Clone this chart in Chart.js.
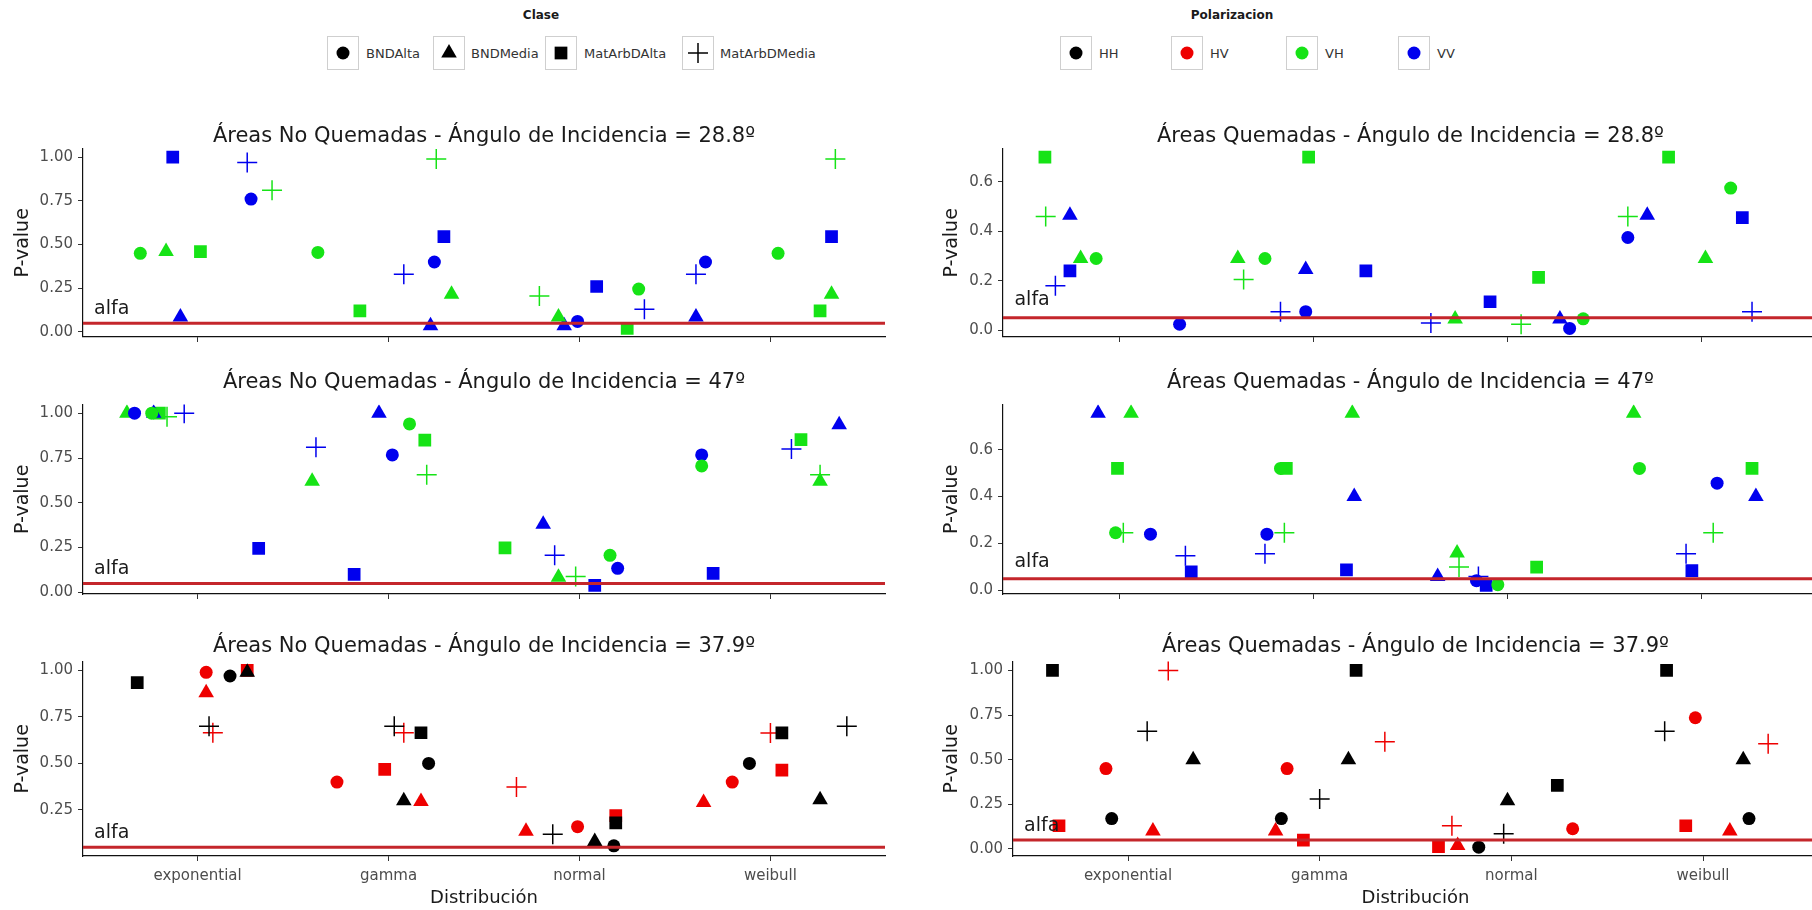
<!DOCTYPE html>
<html>
<head>
<meta charset="utf-8">
<script src="https://cdn.jsdelivr.net/npm/chart.js@4.4.1/dist/chart.umd.min.js"></script>
<style>
  html, body { margin: 0; padding: 0; background: #fff; }
  body { position: relative; width: 1812px; height: 910px; overflow: hidden; font-family: "DejaVu Sans", sans-serif; }
  canvas.panel { position: absolute; }
  .lg-title { position: absolute; font-weight: bold; font-size: 12px; color: #1a1a1a; transform: translateX(-50%); }
  .lg-key { position: absolute; box-sizing: border-box; border: 1px solid #cfcfcf; background: #fff; }
  .lg-label { position: absolute; font-size: 13px; color: #333; transform: translateY(-50%); }
</style>
</head>
<body>
<script>
// categorias y etiquetas
const distribuciones = ["exponential", "gamma", "normal", "weibull"];
const clases = ["BNDAlta", "BNDMedia", "MatArbDAlta", "MatArbDMedia"];
const polarizaciones = ["HH", "HV", "VH", "VV"];
const alfa = 0.05;

// p-values: [posicion x con jitter, p-value, clase, polarizacion]
const noQuem288 = [
  [0.70, 0.45, "BNDAlta", "VH"], [0.835, 0.46, "BNDMedia", "VH"], [0.87, 1.00, "MatArbDAlta", "VV"],
  [0.91, 0.085, "BNDMedia", "VV"], [1.015, 0.46, "MatArbDAlta", "VH"], [1.26, 0.97, "MatArbDMedia", "VV"],
  [1.28, 0.76, "BNDAlta", "VV"], [1.39, 0.81, "MatArbDMedia", "VH"],
  [1.63, 0.455, "BNDAlta", "VH"], [1.85, 0.12, "MatArbDAlta", "VH"], [2.08, 0.33, "MatArbDMedia", "VV"],
  [2.22, 0.035, "BNDMedia", "VV"], [2.24, 0.40, "BNDAlta", "VV"], [2.25, 0.99, "MatArbDMedia", "VH"],
  [2.29, 0.545, "MatArbDAlta", "VV"], [2.33, 0.215, "BNDMedia", "VH"],
  [2.79, 0.205, "MatArbDMedia", "VH"], [2.89, 0.085, "BNDMedia", "VH"], [2.92, 0.035, "BNDMedia", "VV"],
  [2.99, 0.06, "BNDAlta", "VV"], [3.09, 0.26, "MatArbDAlta", "VV"], [3.25, 0.02, "MatArbDAlta", "VH"],
  [3.31, 0.245, "BNDAlta", "VH"], [3.34, 0.13, "MatArbDMedia", "VV"],
  [3.61, 0.33, "MatArbDMedia", "VV"], [3.61, 0.085, "BNDMedia", "VV"], [3.66, 0.40, "BNDAlta", "VV"],
  [4.04, 0.45, "BNDAlta", "VH"], [4.26, 0.12, "MatArbDAlta", "VH"], [4.34, 0.99, "MatArbDMedia", "VH"],
  [4.32, 0.545, "MatArbDAlta", "VV"], [4.32, 0.215, "BNDMedia", "VH"]
];

const quem288 = [
  [0.616, 0.70, "MatArbDAlta", "VH"], [0.62, 0.46, "MatArbDMedia", "VH"], [0.745, 0.465, "BNDMedia", "VV"],
  [0.80, 0.29, "BNDMedia", "VH"], [0.88, 0.29, "BNDAlta", "VH"], [0.745, 0.24, "MatArbDAlta", "VV"],
  [0.67, 0.18, "MatArbDMedia", "VV"], [1.31, 0.024, "BNDAlta", "VV"],
  [1.61, 0.29, "BNDMedia", "VH"], [1.75, 0.29, "BNDAlta", "VH"], [1.64, 0.205, "MatArbDMedia", "VH"],
  [1.83, 0.075, "MatArbDMedia", "VV"], [1.96, 0.075, "BNDAlta", "VV"], [1.975, 0.70, "MatArbDAlta", "VH"],
  [1.96, 0.245, "BNDMedia", "VV"], [2.27, 0.24, "MatArbDAlta", "VV"],
  [2.605, 0.029, "MatArbDMedia", "VV"], [2.73, 0.045, "BNDMedia", "VH"], [2.91, 0.115, "MatArbDAlta", "VV"],
  [3.07, 0.024, "MatArbDMedia", "VH"], [3.16, 0.214, "MatArbDAlta", "VH"], [3.27, 0.045, "BNDMedia", "VV"],
  [3.32, 0.007, "BNDAlta", "VV"], [3.39, 0.046, "BNDAlta", "VH"],
  [3.62, 0.46, "MatArbDMedia", "VH"], [3.62, 0.375, "BNDAlta", "VV"], [3.72, 0.465, "BNDMedia", "VV"],
  [3.83, 0.70, "MatArbDAlta", "VH"], [4.02, 0.29, "BNDMedia", "VH"], [4.15, 0.575, "BNDAlta", "VH"],
  [4.21, 0.455, "MatArbDAlta", "VV"], [4.26, 0.075, "MatArbDMedia", "VV"]
];

const noQuem47 = [
  [0.63, 1.0, "BNDMedia", "VH"], [0.67, 1.0, "BNDAlta", "VV"], [0.76, 1.0, "BNDAlta", "VH"],
  [0.77, 1.0, "BNDMedia", "VV"], [0.80, 1.0, "MatArbDAlta", "VH"], [0.84, 0.98, "MatArbDMedia", "VH"],
  [0.93, 1.0, "MatArbDMedia", "VV"], [1.32, 0.245, "MatArbDAlta", "VV"],
  [1.60, 0.62, "BNDMedia", "VH"], [1.62, 0.81, "MatArbDMedia", "VV"], [1.82, 0.10, "MatArbDAlta", "VV"],
  [1.95, 1.0, "BNDMedia", "VV"], [2.02, 0.767, "BNDAlta", "VV"], [2.11, 0.94, "BNDAlta", "VH"],
  [2.19, 0.85, "MatArbDAlta", "VH"], [2.20, 0.657, "MatArbDMedia", "VH"],
  [2.61, 0.248, "MatArbDAlta", "VH"], [2.81, 0.38, "BNDMedia", "VV"], [2.87, 0.207, "MatArbDMedia", "VV"],
  [2.89, 0.085, "BNDMedia", "VH"], [2.98, 0.088, "MatArbDMedia", "VH"], [3.08, 0.039, "MatArbDAlta", "VV"],
  [3.16, 0.207, "BNDAlta", "VH"], [3.20, 0.134, "BNDAlta", "VV"],
  [3.64, 0.767, "BNDAlta", "VV"], [3.64, 0.706, "BNDAlta", "VH"], [3.70, 0.106, "MatArbDAlta", "VV"],
  [4.11, 0.80, "MatArbDMedia", "VV"], [4.16, 0.853, "MatArbDAlta", "VH"], [4.26, 0.657, "MatArbDMedia", "VH"],
  [4.26, 0.62, "BNDMedia", "VH"], [4.36, 0.935, "BNDMedia", "VV"]
];

const quem47 = [
  [0.89, 0.755, "BNDMedia", "VV"], [1.06, 0.755, "BNDMedia", "VH"], [0.99, 0.52, "MatArbDAlta", "VH"],
  [0.98, 0.246, "BNDAlta", "VH"], [1.02, 0.246, "MatArbDMedia", "VH"], [1.16, 0.24, "BNDAlta", "VV"],
  [1.34, 0.148, "MatArbDMedia", "VV"], [1.37, 0.08, "MatArbDAlta", "VV"],
  [1.75, 0.157, "MatArbDMedia", "VV"], [1.76, 0.24, "BNDAlta", "VV"], [1.85, 0.246, "MatArbDMedia", "VH"],
  [1.86, 0.52, "MatArbDAlta", "VH"], [1.83, 0.52, "BNDAlta", "VH"], [2.17, 0.088, "MatArbDAlta", "VV"],
  [2.20, 0.755, "BNDMedia", "VH"], [2.21, 0.40, "BNDMedia", "VV"],
  [2.64, 0.06, "BNDMedia", "VV"], [2.74, 0.16, "BNDMedia", "VH"], [2.75, 0.10, "MatArbDMedia", "VH"],
  [2.85, 0.06, "MatArbDMedia", "VV"], [2.84, 0.042, "BNDAlta", "VV"], [2.89, 0.022, "MatArbDAlta", "VV"],
  [2.95, 0.025, "BNDAlta", "VH"], [3.15, 0.10, "MatArbDAlta", "VH"],
  [3.65, 0.755, "BNDMedia", "VH"], [3.68, 0.52, "BNDAlta", "VH"], [3.92, 0.157, "MatArbDMedia", "VV"],
  [3.95, 0.085, "MatArbDAlta", "VV"], [4.06, 0.246, "MatArbDMedia", "VH"], [4.08, 0.457, "BNDAlta", "VV"],
  [4.26, 0.52, "MatArbDAlta", "VH"], [4.28, 0.40, "BNDMedia", "VV"]
];

const noQuem379 = [
  [0.684, 0.935, "MatArbDAlta", "HH"], [1.045, 0.99, "BNDAlta", "HV"], [1.045, 0.88, "BNDMedia", "HV"],
  [1.17, 0.97, "BNDAlta", "HH"], [1.26, 1.0, "MatArbDAlta", "HV"], [1.26, 0.99, "BNDMedia", "HH"],
  [1.06, 0.70, "MatArbDMedia", "HH"], [1.08, 0.665, "MatArbDMedia", "HV"],
  [1.73, 0.40, "BNDAlta", "HV"], [1.98, 0.468, "MatArbDAlta", "HV"], [2.03, 0.70, "MatArbDMedia", "HH"],
  [2.08, 0.665, "MatArbDMedia", "HV"], [2.17, 0.665, "MatArbDAlta", "HH"], [2.08, 0.30, "BNDMedia", "HH"],
  [2.17, 0.295, "BNDMedia", "HV"], [2.21, 0.50, "BNDAlta", "HH"],
  [2.67, 0.373, "MatArbDMedia", "HV"], [2.72, 0.135, "BNDMedia", "HV"], [2.86, 0.12, "MatArbDMedia", "HH"],
  [2.99, 0.16, "BNDAlta", "HV"], [3.08, 0.08, "BNDMedia", "HH"], [3.18, 0.057, "BNDAlta", "HH"],
  [3.19, 0.22, "MatArbDAlta", "HV"], [3.19, 0.18, "MatArbDAlta", "HH"],
  [3.65, 0.29, "BNDMedia", "HV"], [3.80, 0.40, "BNDAlta", "HV"], [3.89, 0.50, "BNDAlta", "HH"],
  [4.00, 0.664, "MatArbDMedia", "HV"], [4.06, 0.664, "MatArbDAlta", "HH"], [4.06, 0.464, "MatArbDAlta", "HV"],
  [4.26, 0.305, "BNDMedia", "HH"], [4.40, 0.70, "MatArbDMedia", "HH"]
];

const quem379 = [
  [0.606, 1.0, "MatArbDAlta", "HH"], [0.64, 0.13, "MatArbDAlta", "HV"], [0.885, 0.45, "BNDAlta", "HV"],
  [0.915, 0.17, "BNDAlta", "HH"], [1.10, 0.66, "MatArbDMedia", "HH"], [1.13, 0.10, "BNDMedia", "HV"],
  [1.21, 1.0, "MatArbDMedia", "HV"], [1.34, 0.50, "BNDMedia", "HH"],
  [1.77, 0.10, "BNDMedia", "HV"], [1.80, 0.17, "BNDAlta", "HH"], [1.83, 0.45, "BNDAlta", "HV"],
  [1.915, 0.05, "MatArbDAlta", "HV"], [2.00, 0.28, "MatArbDMedia", "HH"], [2.15, 0.50, "BNDMedia", "HH"],
  [2.19, 1.0, "MatArbDAlta", "HH"], [2.34, 0.60, "MatArbDMedia", "HV"],
  [2.62, 0.013, "MatArbDAlta", "HV"], [2.69, 0.13, "MatArbDMedia", "HV"], [2.72, 0.02, "BNDMedia", "HV"],
  [2.83, 0.01, "BNDAlta", "HH"], [2.96, 0.085, "MatArbDMedia", "HH"], [2.98, 0.27, "BNDMedia", "HH"],
  [3.24, 0.356, "MatArbDAlta", "HH"], [3.32, 0.113, "BNDAlta", "HV"],
  [3.81, 1.0, "MatArbDAlta", "HH"], [3.80, 0.66, "MatArbDMedia", "HH"], [3.91, 0.13, "MatArbDAlta", "HV"],
  [3.96, 0.735, "BNDAlta", "HV"], [4.14, 0.10, "BNDMedia", "HV"], [4.21, 0.50, "BNDMedia", "HH"],
  [4.24, 0.17, "BNDAlta", "HH"], [4.34, 0.59, "MatArbDMedia", "HV"]
];

// estilos
const FONT = "DejaVu Sans";
const coloresPol = { HH: "#000000", HV: "#ee0000", VH: "#16e316", VV: "#0000ee" };
const formasClase = { BNDAlta: "circle", BNDMedia: "triangle", MatArbDAlta: "rect", MatArbDMedia: "cross" };
const radiosClase = { BNDAlta: 6.5, BNDMedia: 9, MatArbDAlta: 9, MatArbDMedia: 10 };

// layout (px de la pagina)
const filas = [
  { title: 137, top: 149, bottom: 343 },
  { title: 383, top: 405, bottom: 600 },
  { title: 647, top: 662, bottom: 856 }
];
const columnas = [
  { left: 0, width: 900, right: 885, yTitle: 23 },
  { left: 900, width: 930, right: 1818, yTitle: 952 }
];

const paneles = [
  { datos: noQuem288, titulo: "Áreas No Quemadas - Ángulo de Incidencia = 28.8º", fila: 0, col: 0, paso: 0.25, dec: 2, ejeY: 83 },
  { datos: quem288, titulo: "Áreas Quemadas - Ángulo de Incidencia = 28.8º", fila: 0, col: 1, paso: 0.2, dec: 1, ejeY: 103 },
  { datos: noQuem47, titulo: "Áreas No Quemadas - Ángulo de Incidencia = 47º", fila: 1, col: 0, paso: 0.25, dec: 2, ejeY: 83 },
  { datos: quem47, titulo: "Áreas Quemadas - Ángulo de Incidencia = 47º", fila: 1, col: 1, paso: 0.2, dec: 1, ejeY: 103 },
  { datos: noQuem379, titulo: "Áreas No Quemadas - Ángulo de Incidencia = 37.9º", fila: 2, col: 0, paso: 0.25, dec: 2, ejeY: 83 },
  { datos: quem379, titulo: "Áreas Quemadas - Ángulo de Incidencia = 37.9º", fila: 2, col: 1, paso: 0.25, dec: 2, ejeY: 113 }
];

const xMin = 0.4, xMax = 4.6;

// "alfa" label drawn on top of everything
const alfaLabel = {
  id: "alfaLabel",
  afterDatasetsDraw(chart) {
    const { ctx, scales } = chart;
    ctx.save();
    ctx.font = "19px " + FONT;
    ctx.fillStyle = "#1a1a1a";
    ctx.textAlign = "center";
    ctx.textBaseline = "alphabetic";
    ctx.fillText("alfa", scales.x.getPixelForValue(0.55), scales.y.getPixelForValue(0.1));
    ctx.restore();
  }
};

function buildDatasets(datos) {
  const sets = [{
    type: "line",
    data: [{ x: xMin, y: alfa }, { x: xMax, y: alfa }],
    borderColor: "#c4262b",
    borderWidth: 3,
    pointRadius: 0,
    fill: false
  }];
  clases.forEach((c) => {
    polarizaciones.forEach((p) => {
      const pts = datos.filter((d) => d[2] === c && d[3] === p).map((d) => ({ x: d[0], y: d[1] }));
      if (!pts.length) return;
      sets.push({
        type: "scatter",
        data: pts,
        pointStyle: formasClase[c],
        pointRadius: radiosClase[c],
        backgroundColor: coloresPol[p],
        borderColor: coloresPol[p],
        borderWidth: c === "MatArbDMedia" ? 1.5 : 0
      });
    });
  });
  return sets;
}

paneles.forEach((pn) => {
  const fila = filas[pn.fila];
  const col = columnas[pn.col];
  const ultima = pn.fila === 2;

  const titleSize = 21, titleLH = titleSize * 1.2, titlePadTop = 4;
  const top = fila.title - titleLH / 2 - titlePadTop;
  const titlePadBottom = fila.top - (top + titlePadTop + titleLH);
  const xAxisH = ultima ? 910 - fila.bottom : 8;
  const height = Math.round(fila.bottom + xAxisH - top);

  const ys = pn.datos.map((d) => d[1]).concat([alfa]);
  const lo = Math.min(...ys), hi = Math.max(...ys);
  const pad = (hi - lo) * 0.05;
  const yMin = lo - pad, yMax = hi + pad;
  const yTicks = [];
  for (let k = Math.ceil(yMin / pn.paso - 1e-9); k * pn.paso <= yMax + 1e-9; k++) yTicks.push(+(k * pn.paso).toFixed(4));

  const cv = document.createElement("canvas");
  cv.className = "panel";
  cv.width = col.width;
  cv.height = height;
  cv.style.left = col.left + "px";
  cv.style.top = top + "px";
  document.body.appendChild(cv);

  const yTitleSize = 19;

  new Chart(cv.getContext("2d"), {
    type: "scatter",
    data: { datasets: buildDatasets(pn.datos) },
    options: {
      responsive: false,
      animation: false,
      devicePixelRatio: 1,
      events: [],
      layout: { padding: { left: 0, right: col.width - (col.right - col.left), top: 0, bottom: 0 } },
      plugins: {
        legend: { display: false },
        tooltip: { enabled: false },
        title: {
          display: true,
          text: pn.titulo,
          fullSize: false,
          color: "#1a1a1a",
          font: { family: FONT, size: titleSize, weight: "normal" },
          padding: { top: titlePadTop, bottom: titlePadBottom }
        }
      },
      scales: {
        x: {
          type: "linear",
          min: xMin,
          max: xMax,
          afterBuildTicks: (s) => { s.ticks = distribuciones.map((_, i) => ({ value: i + 1 })); },
          afterFit: (s) => { s.height = xAxisH; },
          ticks: {
            display: ultima,
            autoSkip: false,
            maxRotation: 0,
            padding: 6,
            color: "#4d4d4d",
            font: { family: FONT, size: 15 },
            callback: (v) => distribuciones[Math.round(v) - 1]
          },
          grid: { display: true, drawOnChartArea: false, drawTicks: true, tickLength: 5, color: "#333", lineWidth: 1 },
          border: { display: true, color: "#111", width: 1.2 },
          title: {
            display: ultima,
            text: "Distribución",
            color: "#1a1a1a",
            font: { family: FONT, size: 18 },
            padding: { top: 0, bottom: 1 }
          }
        },
        y: {
          type: "linear",
          min: yMin,
          max: yMax,
          afterBuildTicks: (s) => { s.ticks = yTicks.map((v) => ({ value: v })); },
          afterFit: (s) => { s.width = pn.ejeY; },
          ticks: {
            padding: 5,
            color: "#4d4d4d",
            font: { family: FONT, size: 15 },
            callback: (v) => Number(v).toFixed(pn.dec)
          },
          grid: { display: true, drawOnChartArea: false, drawTicks: true, tickLength: 5, color: "#333", lineWidth: 1 },
          border: { display: true, color: "#111", width: 1.2 },
          title: {
            display: true,
            text: "P-value",
            color: "#1a1a1a",
            font: { family: FONT, size: yTitleSize },
            padding: { top: col.yTitle - col.left - yTitleSize * 0.6, bottom: 0 }
          }
        }
      }
    },
    plugins: [alfaLabel]
  });
});

// leyendas superiores
function drawKey(canvas, style, radius, color) {
  const ctx = canvas.getContext("2d");
  ctx.fillStyle = color;
  ctx.strokeStyle = color;
  ctx.lineWidth = style === "cross" ? 1.5 : 0;
  const opts = { pointStyle: style, radius: radius, borderWidth: style === "cross" ? 1.5 : 0, rotation: 0 };
  Chart.helpers.drawPoint(ctx, opts, canvas.width / 2, canvas.height / 2);
}

function buildLegend(titulo, titleX, items, keyLefts, labelLefts, styleOf, colorOf) {
  const t = document.createElement("div");
  t.className = "lg-title";
  t.textContent = titulo;
  t.style.left = titleX + "px";
  t.style.top = "8px";
  document.body.appendChild(t);
  items.forEach((it, i) => {
    const k = document.createElement("div");
    k.className = "lg-key";
    k.style.left = keyLefts[i] + "px";
    k.style.top = "36px";
    k.style.width = "32px";
    k.style.height = "34px";
    const c = document.createElement("canvas");
    c.width = 30; c.height = 32;
    c.style.display = "block";
    k.appendChild(c);
    document.body.appendChild(k);
    const st = styleOf(it);
    drawKey(c, st, st === "circle" ? 6.5 : radiosClase[it], colorOf(it));
    const l = document.createElement("div");
    l.className = "lg-label";
    l.textContent = it;
    l.style.left = labelLefts[i] + "px";
    l.style.top = "53px";
    document.body.appendChild(l);
  });
}

buildLegend("Clase", 541, clases, [327, 433, 545, 682], [366, 471, 584, 720],
  (c) => formasClase[c], () => "#000000");
buildLegend("Polarizacion", 1232, polarizaciones, [1060, 1171, 1286, 1398], [1099, 1210, 1325, 1437],
  () => "circle", (p) => coloresPol[p]);
</script>
</body>
</html>
